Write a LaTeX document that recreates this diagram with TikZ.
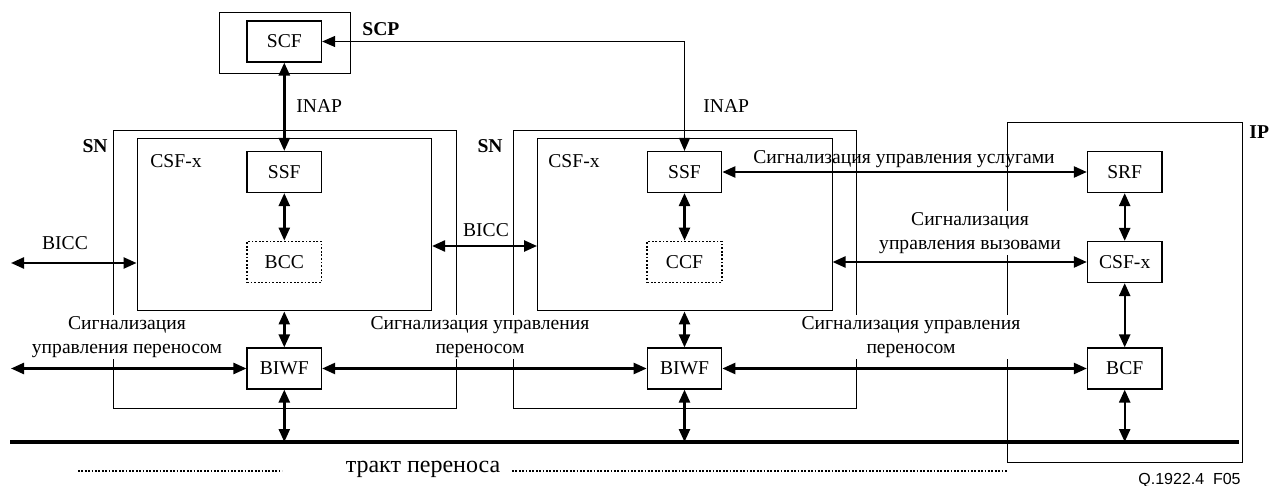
\documentclass[tikz,border=0pt]{standalone}
\usepackage{fontspec}
\setmainfont{Liberation Serif}
\newfontfamily\figsans{Liberation Sans}
\usetikzlibrary{arrows.meta}

\begin{document}
\begin{tikzpicture}[x=0.5pt, y=-0.5pt,
  font=\fontsize{9.8}{11.8}\selectfont,
  fn/.style={draw, line width=0.6pt, minimum width=37.25pt, minimum height=20.5pt, inner sep=0pt},
  fndot/.style={fn, line width=0.9pt, dash pattern=on 0.9pt off 0.9pt},
  frame/.style={draw, line width=0.5pt, inner sep=0pt},
  link/.style={line width=1.2pt, {Triangle[length=6.5pt,width=5.5pt]}-{Triangle[length=6.5pt,width=5.5pt]}},
  thinlink/.style={line width=0.6pt, {Triangle[length=6.5pt,width=5.5pt]}-{Triangle[length=6.5pt,width=5.5pt]}},
  note/.style={fill=white, inner sep=1pt, align=center},
  plain/.style={inner sep=0pt, align=center},
  tag/.style={inner sep=0pt, font=\fontsize{9.8}{11.8}\selectfont\bfseries},
  bearer/.style={line width=2pt},
  path/.style={line width=0.9pt, dash pattern=on 0.9pt off 0.8pt}]

\useasboundingbox (0,0) rectangle (1269,486);

% containers
\node[frame, minimum width=65.5pt, minimum height=30.5pt] (scp) at (284.5,43.5) {};
\node[frame, minimum width=171.5pt, minimum height=138.5pt] (sn1) at (284.5,269.5) {};
\node[frame, minimum width=171.75pt, minimum height=138.5pt] (sn2) at (684.75,269.5) {};
\node[frame, minimum width=117.75pt, minimum height=169.5pt] (ip) at (1124.75,292.5) {};
\node[frame, minimum width=147.25pt, minimum height=86pt] (csf1) at (284.3,225) {};
\node[frame, minimum width=147.25pt, minimum height=86pt] (csf2) at (684.8,225) {};

% container labels
\node[tag, anchor=west] (lscp) at (362,29) {SCP};
\node[tag, anchor=east] (lsn1) at (108,146) {SN};
\node[tag, anchor=east] (lsn2) at (503,146) {SN};
\node[tag, anchor=west] (lip) at (1249,132) {IP};
\node[plain, anchor=west] (lcsf1) at (150,161) {CSF-x};
\node[plain, anchor=west] (lcsf2) at (548,161) {CSF-x};

% signalling labels
\node[plain, anchor=west] (inap1) at (296,106) {INAP};
\node[plain, anchor=west] (inap2) at (703,106) {INAP};
\node[plain] (bicc1) at (65,243) {BICC};
\node[plain] (bicc2) at (486,230) {BICC};
\node[plain] (svc) at (904,159) {Сигнализация управления услугами};
\node[note] (call) at (970,233) {Сигнализация\\управления вызовами};
\node[note] (br1) at (127,337) {Сигнализация\\управления переносом};
\node[note] (br2) at (480,337) {Сигнализация управления\\переносом};
\node[note] (br3) at (911,337) {Сигнализация управления\\переносом};

% functional entities
\node[fn] (scf) at (284.3,41.5) {SCF};
\node[fn] (ssf1) at (284.3,172) {SSF};
\node[fndot] (bcc) at (284.3,262) {BCC};
\node[fn] (biwf1) at (284.3,368.5) {BIWF};
\node[fn] (ssf2) at (684.5,172) {SSF};
\node[fndot] (ccf) at (684.5,262) {CCF};
\node[fn] (biwf2) at (684.5,368.5) {BIWF};
\node[fn] (srf) at (1124.7,172) {SRF};
\node[fn] (csfip) at (1124.7,262) {CSF-x};
\node[fn] (bcf) at (1124.7,368.5) {BCF};

% bearer path
\coordinate (bl) at (10,442);
\coordinate (brr) at (1239,442);
\draw[bearer] (bl) -- (brr);
\coordinate (bicco) at (11,263);
\coordinate (bwfo) at (11,368.5);

% control connections
\draw[link] (scf.south) -- (ssf1.north);
\draw[thinlink] (scf.east) -| (ssf2.north);
\draw[link] (ssf1) -- (bcc);
\draw[link] (ssf2) -- (ccf);
\draw[link] (csf1.south -| biwf1) -- (biwf1.north);
\draw[link] (csf2.south -| biwf2) -- (biwf2.north);
\draw[link] (biwf1.south) -- (biwf1.south |- bl);
\draw[link] (biwf2.south) -- (biwf2.south |- bl);
\draw[link] (bcf.south) -- (bcf.south |- bl);
\draw[link] (srf) -- (csfip);
\draw[link] (csfip) -- (bcf);
\draw[link] (bicco) -- (bicco -| csf1.west);
\draw[link] (csf1.east |- 0,246) -- (csf2.west |- 0,246);
\draw[link] (ssf2) -- (srf);
\draw[link] (csf2.east |- csfip) -- (csfip);
\draw[link] (bwfo) -- (biwf1);
\draw[link] (biwf1) -- (biwf2);
\draw[link] (biwf2) -- (bcf);

% bearer path caption
\node[plain, font=\fontsize{12}{14}\selectfont] (tract) at (423,469) {тракт переноса};
\draw[path] (78,471) -- (282,471);
\draw[path] (512,471) -- (1007,471);

\node[inner sep=0pt, anchor=east, font=\figsans\fontsize{8}{9.6}\selectfont] (fig) at (1241,480) {Q.1922.4\hspace{0.55em}F05};
\end{tikzpicture}
\end{document}
